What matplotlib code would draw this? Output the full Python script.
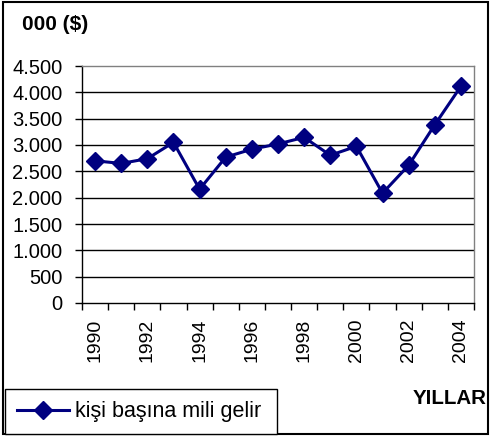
import matplotlib
matplotlib.use("Agg")
import matplotlib.pyplot as plt
from matplotlib.patches import Rectangle
import numpy as np

# data
years = [1990, 1991, 1992, 1993, 1994, 1995, 1996, 1997,
         1998, 1999, 2000, 2001, 2002, 2003, 2004]
gelir = [2700, 2650, 2740, 3050, 2160, 2770, 2920, 3020,
         3145, 2805, 2975, 2085, 2615, 3385, 4115]
y_ticks = [0, 500, 1000, 1500, 2000, 2500, 3000, 3500, 4000, 4500]
y_labels = ["0", "500", "1.000", "1.500", "2.000", "2.500",
            "3.000", "3.500", "4.000", "4.500"]

plt.rcParams['font.family'] = ['Liberation Sans', 'DejaVu Sans']

W, H = 491, 436
fig = plt.figure(figsize=(W / 100, H / 100), dpi=100)
ax = fig.add_axes([82 / W, 1 - 303 / H, (474 - 82) / W, (303 - 66) / H])

x = np.arange(len(years))
line, = ax.plot(x, gelir, color='#000080', lw=2.2, marker='D', markersize=9.5,
                label='kişi başına mili gelir')

ax.set_xlim(-0.5, len(years) - 0.5)
ax.set_ylim(0, 4500)
ax.set_yticks(y_ticks)
ax.set_yticklabels(y_labels, fontsize=14.5)
for v in y_ticks[1:-1]:
    ax.axhline(v, color='black', lw=1, zorder=0)

# category ticks between points, labels every second year
ax.set_xticks(np.arange(-0.5, len(years), 1.0))
ax.set_xticklabels([])
ax.set_xticks(x[::2], minor=True)
ax.set_xticklabels([str(y) for y in years[::2]], minor=True,
                   rotation=90, fontsize=14)
ax.tick_params(axis='x', which='minor', length=0, pad=11)
ax.tick_params(axis='x', which='major', length=5, direction='out', width=1)
ax.tick_params(axis='y', length=5, direction='out', width=1, pad=9)

ax.spines['top'].set_color('#808080')
ax.spines['right'].set_color('#808080')
ax.spines['left'].set_color('black')
ax.spines['bottom'].set_color('black')
for s in ax.spines.values():
    s.set_linewidth(1)

fig.text(22 / W, 1 - 24 / H, "000 ($)", fontsize=15, fontweight='bold',
         va='center', ha='left')
fig.text(487 / W, 1 - 398 / H, "YILLAR", fontsize=14.8, fontweight='bold',
         va='center', ha='right')

fig.legend(handles=[line], loc='lower left',
           bbox_to_anchor=(5 / W, 2 / H, (277 - 5) / W, (434 - 384) / H),
           mode='expand', fontsize=15.5, frameon=True, fancybox=False,
           edgecolor='black', framealpha=1, borderaxespad=0,
           handlelength=2.4, borderpad=0.55, handletextpad=0.28)

# outer frame
fig.patches.append(Rectangle((3 / W, 2 / H), (W - 6) / W, (H - 4) / H,
                             transform=fig.transFigure, fill=False,
                             edgecolor='black', lw=1.5))

fig.savefig('out.png', dpi=100)
